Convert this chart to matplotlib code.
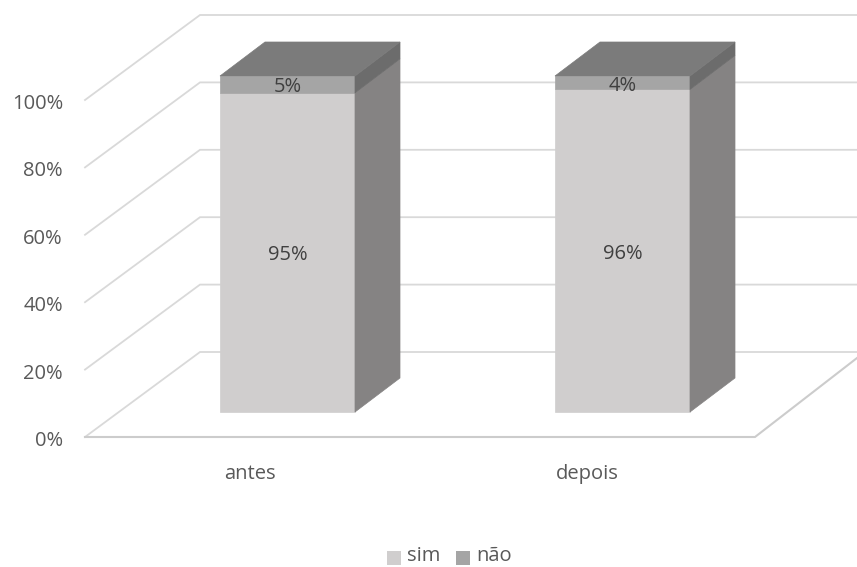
import matplotlib
matplotlib.use("Agg")
import matplotlib.pyplot as plt
from matplotlib.patches import Polygon, Rectangle

plt.rcParams['font.family'] = ['Open Sans', 'DejaVu Sans']

categorias = ["antes", "depois"]
sim = [95, 96]
nao = [5, 4]
ticks = [0, 20, 40, 60, 80, 100]

COR_SIM = "#d0cece"
COR_NAO = "#a5a5a5"
COR_LADO = "#858383"
COR_LADO_NAO = "#6c6c6c"
COR_TOPO = "#7b7b7b"
COR_GRADE = "#d9d9d9"
COR_TEXTO = "#595959"
TAM = 14.5

fig = plt.figure(figsize=(8.57, 5.67), dpi=100)
ax = fig.add_axes([0, 0, 1, 1])
ax.set_xlim(0, 857)
ax.set_ylim(567, 0)
ax.axis("off")

# escala em pixels da pseudo-perspectiva 3D
Y_FRENTE = 437
Y_BASE = 412
PX_POR_PCT_GRADE = 3.37
PX_POR_PCT_BARRA = 3.36
DX_PAREDE, DY_PAREDE = 115, -85
DX_BARRA, DY_BARRA = 45, -34
X_BARRA = [220, 555]
L_BARRA = 135


def y_grade(p):
    return Y_FRENTE - p * PX_POR_PCT_GRADE


def y_barra(p):
    return Y_BASE - p * PX_POR_PCT_BARRA


def face(pts, cor, z=3):
    ax.add_patch(Polygon(pts, closed=True, fc=cor, ec=cor, lw=0.5, zorder=z))


# grade: diagonal na parede lateral e horizontal na parede do fundo
for t in ticks:
    y = y_grade(t)
    ax.plot([85, 85 + DX_PAREDE, 857], [y, y + DY_PAREDE, y + DY_PAREDE],
            color=COR_GRADE, lw=1.3, zorder=1, solid_joinstyle="miter")
    ax.text(63, y + 4, f"{t}%", ha="right", va="center", fontsize=TAM, color=COR_TEXTO)

# chão
ax.plot([85, 755, 857], [Y_FRENTE, Y_FRENTE, Y_FRENTE - 79],
        color="#cccccc", lw=1.5, zorder=1, solid_joinstyle="miter")

for i, cat in enumerate(categorias):
    x0 = X_BARRA[i]
    x1 = x0 + L_BARRA
    base = y_barra(0)
    meio = y_barra(sim[i])
    topo = y_barra(sim[i] + nao[i])

    face([(x0, base), (x1, base), (x1, meio), (x0, meio)], COR_SIM)
    face([(x0, meio), (x1, meio), (x1, topo), (x0, topo)], COR_NAO)
    face([(x1, base), (x1 + DX_BARRA, base + DY_BARRA),
          (x1 + DX_BARRA, meio + DY_BARRA), (x1, meio)], COR_LADO)
    face([(x1, meio), (x1 + DX_BARRA, meio + DY_BARRA),
          (x1 + DX_BARRA, topo + DY_BARRA), (x1, topo)], COR_LADO_NAO)
    face([(x0, topo), (x1, topo), (x1 + DX_BARRA, topo + DY_BARRA),
          (x0 + DX_BARRA, topo + DY_BARRA)], COR_TOPO)

    xc = (x0 + x1) / 2
    ax.text(xc, (base + meio) / 2 + 3, f"{sim[i]}%", ha="center", va="center",
            fontsize=TAM, color="#404040", zorder=5)
    ax.text(xc, (meio + topo) / 2 + 3, f"{nao[i]}%", ha="center", va="center",
            fontsize=TAM, color="#404040", zorder=5)
    ax.text(xc - 38 if i == 0 else xc - 35, 474, cat, ha="center", va="center",
            fontsize=TAM, color=COR_TEXTO)

# legenda
for x, cor, rotulo in [(387, COR_SIM, "sim"), (456, COR_NAO, "não")]:
    ax.add_patch(Rectangle((x, 551), 14, 14, fc=cor, ec="none"))
    ax.text(x + 20, 556, rotulo, ha="left", va="center", fontsize=TAM, color=COR_TEXTO)

fig.savefig("out.png", dpi=100)
